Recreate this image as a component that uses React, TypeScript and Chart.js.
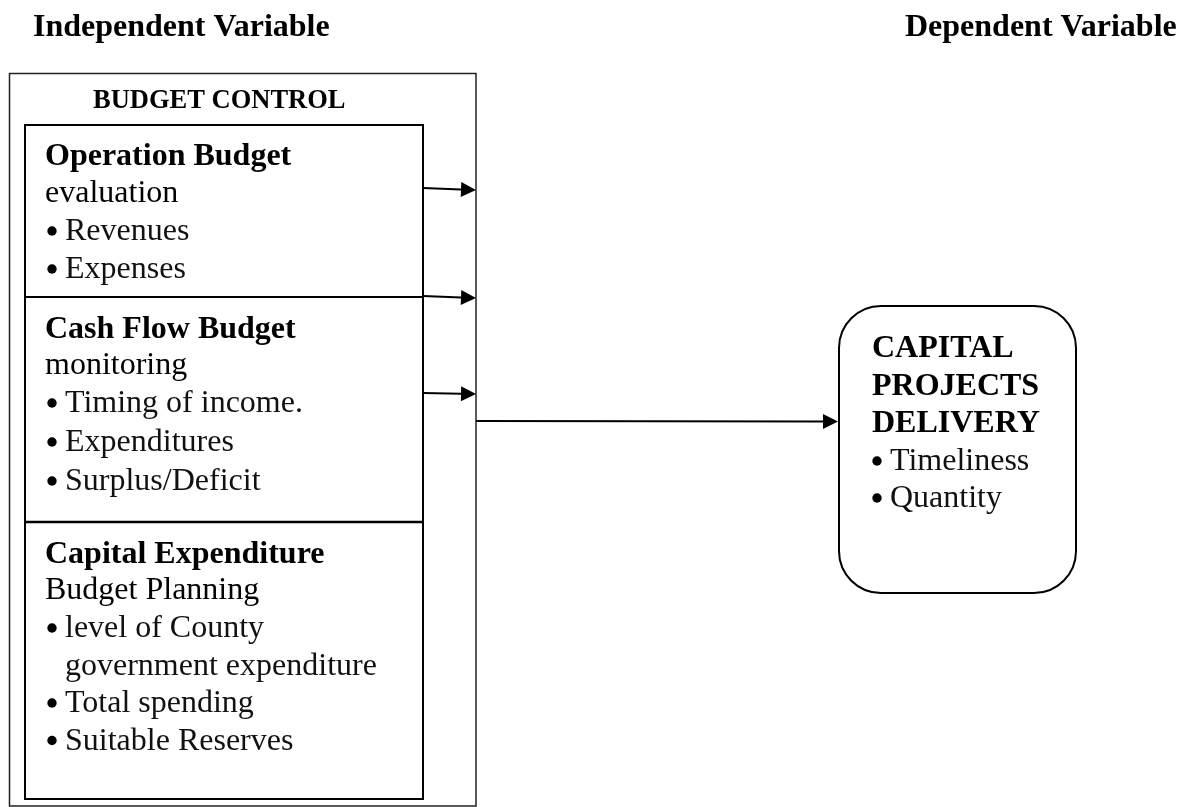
import React, { useEffect, useRef } from "react";
import { Chart, registerables } from "chart.js";

Chart.register(...registerables);

// ---- content ----
const headerLabels = ["Independent Variable", "Dependent Variable"];
const groupTitle = "BUDGET CONTROL";
const sectionTitles = ["Operation Budget", "Cash Flow Budget", "Capital Expenditure"];
const sectionSubtitles = ["evaluation", "monitoring", "Budget Planning"];
const operationItems = [["Revenues"], ["Expenses"]];
const cashFlowItems = [["Timing of income."], ["Expenditures"], ["Surplus/Deficit"]];
const capitalItems = [["level of County", "government expenditure"], ["Total spending"], ["Suitable Reserves"]];
const outcomeTitle = ["CAPITAL", "PROJECTS", "DELIVERY"];
const outcomeItems = [["Timeliness"], ["Quantity"]];

const SERIF = "'Liberation Serif', 'Times New Roman', Times, serif";

const W = 1182;
const H = 807;

const diagramPlugin = {
  id: "diagram",
  afterDraw(chart: any) {
    const ctx: CanvasRenderingContext2D = chart.ctx;
    const xs = chart.scales.x;
    const ys = chart.scales.y;
    const X = (v: number) => xs.getPixelForValue(v);
    const Y = (v: number) => ys.getPixelForValue(v);

    ctx.save();
    ctx.textBaseline = "alphabetic";
    ctx.textAlign = "left";

    const text = (s: string, x: number, y: number, size: number, bold: boolean, color = "#000") => {
      ctx.font = `${bold ? "bold " : ""}${size}px ${SERIF}`;
      ctx.fillStyle = color;
      ctx.fillText(s, X(x), Y(y));
    };
    const line = (x1: number, y1: number, x2: number, y2: number, w: number, color = "#000") => {
      ctx.beginPath();
      ctx.strokeStyle = color;
      ctx.lineWidth = w;
      ctx.moveTo(X(x1), Y(y1));
      ctx.lineTo(X(x2), Y(y2));
      ctx.stroke();
    };
    const arrow = (x1: number, y1: number, x2: number, y2: number) => {
      const hl = 15;
      const hw = 7.5;
      const ang = Math.atan2(Y(y2) - Y(y1), X(x2) - X(x1));
      const bx = X(x2) - hl * Math.cos(ang);
      const by = Y(y2) - hl * Math.sin(ang);
      ctx.beginPath();
      ctx.strokeStyle = "#000";
      ctx.lineWidth = 2;
      ctx.moveTo(X(x1), Y(y1));
      ctx.lineTo(bx, by);
      ctx.stroke();
      ctx.beginPath();
      ctx.fillStyle = "#000";
      ctx.moveTo(X(x2), Y(y2));
      ctx.lineTo(bx - hw * Math.sin(ang), by + hw * Math.cos(ang));
      ctx.lineTo(bx + hw * Math.sin(ang), by - hw * Math.cos(ang));
      ctx.closePath();
      ctx.fill();
    };
    const bulletList = (items: string[][], x: number, y0: number, step: number, size: number) => {
      let y = y0;
      items.forEach((lines) => {
        ctx.beginPath();
        ctx.fillStyle = "#000";
        ctx.arc(X(x + 7), Y(y - 9), 4.7, 0, Math.PI * 2);
        ctx.fill();
        lines.forEach((l) => {
          text(l, x + 20, y, size, false, "#111");
          y += step;
        });
      });
    };

    // headers
    text(headerLabels[0], 33, 36, 32, true);
    text(headerLabels[1], 905, 36, 32, true);

    // outer box
    ctx.strokeStyle = "#222";
    ctx.lineWidth = 1.5;
    ctx.strokeRect(X(9.5), Y(73.5), X(476) - X(9.5), Y(806) - Y(73.5));
    text(groupTitle, 93, 108, 26.5, true);

    // inner box
    ctx.strokeStyle = "#000";
    ctx.lineWidth = 2;
    ctx.strokeRect(X(25), Y(125), X(423) - X(25), Y(799) - Y(125));
    line(25, 297, 423, 297, 2);
    line(25, 522, 423, 522, 2.5);

    // Operation budget
    text(sectionTitles[0], 45, 165, 32, true);
    text(sectionSubtitles[0], 45, 202, 32, false);
    bulletList(operationItems, 45, 240, 38, 32);

    // Cash flow
    text(sectionTitles[1], 45, 338, 32, true);
    text(sectionSubtitles[1], 45, 374, 32, false);
    bulletList(cashFlowItems, 45, 412, 39, 32);

    // Capital expenditure
    text(sectionTitles[2], 45, 563, 32, true);
    text(sectionSubtitles[2], 45, 599, 32, false);
    bulletList(capitalItems, 45, 637, 37.5, 32);

    // arrows from inner box
    arrow(423, 188, 476, 190);
    arrow(423, 296, 476, 298);
    arrow(423, 393, 476, 394);
    // main arrow
    arrow(476, 421, 838, 421.5);

    // outcome box
    ctx.beginPath();
    ctx.strokeStyle = "#000";
    ctx.lineWidth = 2;
    (ctx as any).roundRect(X(839), Y(306), X(1076) - X(839), Y(593) - Y(306), 42);
    ctx.stroke();
    outcomeTitle.forEach((t, i) => text(t, 872, 357 + i * 37.5, 32, true));
    bulletList(outcomeItems, 870, 470, 37, 32);

    ctx.restore();
  },
};

export default function App() {
  const ref = useRef<HTMLCanvasElement | null>(null);
  useEffect(() => {
    if (!ref.current) return;
    const chart = new Chart(ref.current, {
      type: "scatter",
      data: { datasets: [{ data: [], pointRadius: 0 }] },
      options: {
        animation: false,
        responsive: false,
        devicePixelRatio: 1,
        layout: { padding: 0 },
        plugins: { legend: { display: false }, tooltip: { enabled: false }, title: { display: false } },
        scales: {
          x: { type: "linear", min: 0, max: W, display: false },
          y: { type: "linear", min: 0, max: H, reverse: true, display: false },
        },
      },
      plugins: [diagramPlugin],
    });
    return () => chart.destroy();
  }, []);
  return (
    <div style={{ position: "absolute", left: 0, top: 0, width: W, height: H, background: "#fff" }}>
      <canvas ref={ref} width={W} height={H} style={{ display: "block" }} />
    </div>
  );
}
